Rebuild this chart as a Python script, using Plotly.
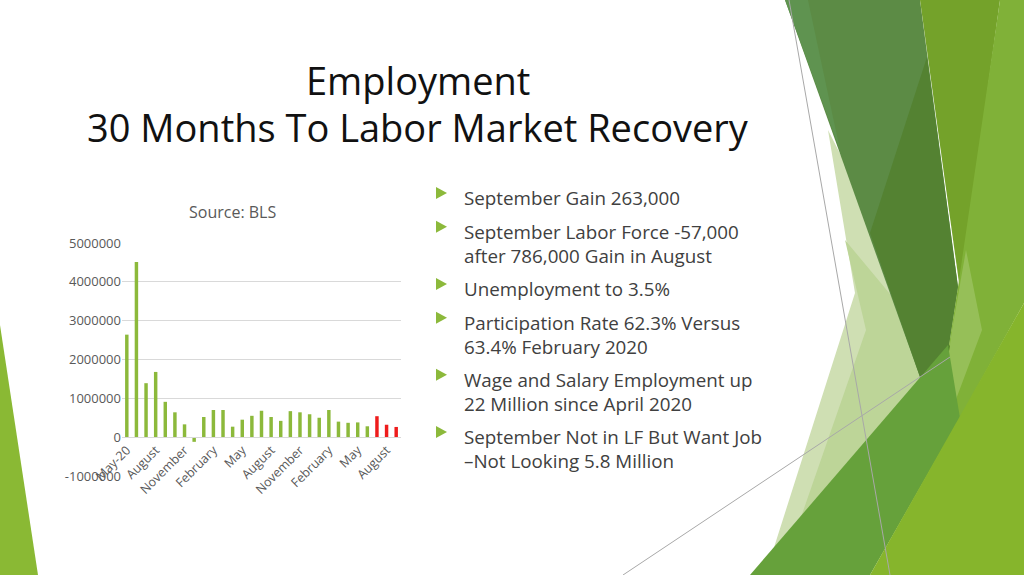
import plotly.graph_objects as go

## chart data
months = ["May-20", "Jun-20", "Jul-20", "Aug-20", "Sep-20", "Oct-20", "Nov-20", "Dec-20",
          "Jan-21", "Feb-21", "Mar-21", "Apr-21", "May-21", "Jun-21", "Jul-21", "Aug-21",
          "Sep-21", "Oct-21", "Nov-21", "Dec-21", "Jan-22", "Feb-22", "Mar-22", "Apr-22",
          "May-22", "Jun-22", "Jul-22", "Aug-22", "Sep-22"]
gains = [2640000, 4510000, 1390000, 1680000, 910000, 640000, 330000, -120000,
         520000, 700000, 700000, 270000, 450000, 550000, 680000, 520000,
         420000, 670000, 640000, 590000, 500000, 700000, 400000, 370000,
         380000, 280000, 540000, 320000, 263000]
recent = ["Jul-22", "Aug-22", "Sep-22"]

x_tick_months = ["May-20", "Aug-20", "Nov-20", "Feb-21", "May-21", "Aug-21",
                 "Nov-21", "Feb-22", "May-22", "Aug-22"]
x_tick_text = ["May-20", "August", "November", "February", "May", "August",
               "November", "February", "May", "August"]
y_tick_vals = [-1000000, 0, 1000000, 2000000, 3000000, 4000000, 5000000]
y_tick_text = ["-1000000", "0", "1000000", "2000000", "3000000", "4000000", "5000000"]

title_lines = ["Employment", "30 Months To Labor Market Recovery"]
bullets = [
    ["September Gain 263,000"],
    ["September Labor Force -57,000", "after 786,000 Gain in August"],
    ["Unemployment to 3.5%"],
    ["Participation Rate 62.3% Versus", "63.4% February 2020"],
    ["Wage and Salary Employment up", "22 Million since April 2020"],
    ["September Not in LF But Want Job", "\u2013Not Looking 5.8 Million"],
]

W, H = 1024, 575
FONT = "Open Sans"
GREEN = "#8CB93B"
RED = "#EE1C1C"


def px(x, y):
    return x / W, 1 - y / H


def path(points):
    pts = [px(x, y) for x, y in points]
    return "M " + " L ".join(f"{a:.5f},{b:.5f}" for a, b in pts) + " Z"


bar_colors = [RED if m in recent else GREEN for m in months]

fig = go.Figure()
fig.add_trace(go.Bar(x=months, y=gains, marker_color=bar_colors,
                     marker_line_width=0, showlegend=False, hoverinfo="skip"))

fig.update_layout(
    width=W, height=H,
    margin=dict(l=0, r=0, t=0, b=0, pad=0),
    paper_bgcolor="white", plot_bgcolor="white",
    bargap=0.64,
    font=dict(family=FONT, color="#595959"),
    xaxis=dict(domain=[122 / W, 401 / W], anchor="free", position=1 - 437 / H,
               tickmode="array", tickvals=x_tick_months, ticktext=x_tick_text,
               tickangle=-45, tickfont=dict(size=12.5, color="#595959"),
               showgrid=False, showline=True, linecolor="#D9D9D9", ticks="",
               automargin=False, fixedrange=True),
    yaxis=dict(domain=[1 - 476 / H, 1 - 243 / H], range=[-1000000, 5000000],
               tickmode="array", tickvals=y_tick_vals, ticktext=y_tick_text,
               tickfont=dict(size=13, color="#595959"),
               gridcolor="#D9D9D9", gridwidth=1, zeroline=False, showline=False,
               ticks="", automargin=False, fixedrange=True),
)

## decorative facets (Facet theme)
facets = [
    ([(0, 325), (38, 575), (0, 575)], "#8AB934"),
    ([(828, 130), (945, 360), (770, 560), (855, 293)], "#CFDFB3"),
    ([(845, 240), (945, 360), (800, 520), (866, 330)], "#BDD598"),
    ([(785, 0), (920, 0), (958, 287), (937, 423), (920, 377)], "#5C8B45"),
    ([(785, 0), (808, 0), (840, 150)], "#5F9350"),
    ([(927, 57), (958, 287), (937, 423), (920, 377), (870, 233)], "#548232"),
    ([(920, 0), (1000, 0), (960, 290)], "#74A22A"),
    ([(1000, 0), (1024, 0), (1024, 303), (960, 418), (937, 423), (958, 287)], "#80B138"),
    ([(966, 250), (982, 330), (934, 458), (952, 330)], "#96BF58"),
    ([(920, 377), (950, 345), (937, 423)], "#4C7F27"),
    ([(948, 345), (750, 575), (870, 575), (960, 418)], "#66A13B"),
    ([(1024, 303), (1024, 575), (870, 575)], "#86B52C"),
]
for pts, col in facets:
    fig.add_shape(type="path", path=path(pts), xref="paper", yref="paper",
                  fillcolor=col, line_width=0, layer="above")

for (x0, y0), (x1, y1) in [((789, 0), (890, 575)), ((623, 575), (950, 357))]:
    a, b = px(x0, y0)
    c, d = px(x1, y1)
    fig.add_shape(type="line", x0=a, y0=b, x1=c, y1=d, xref="paper", yref="paper",
                  line=dict(color="#A8A8A8", width=1))

## slide title
for i, line in enumerate(title_lines):
    x, y = px(418, 80 + i * 47)
    fig.add_annotation(text=line, x=x, y=y, xref="paper", yref="paper",
                       showarrow=False, xanchor="center", yanchor="middle",
                       font=dict(family=FONT, size=38, color="#111111"))

## chart title
x, y = px(232, 212)
fig.add_annotation(text="Source: BLS", x=x, y=y, xref="paper", yref="paper",
                   showarrow=False, xanchor="center", yanchor="middle",
                   font=dict(family=FONT, size=16, color="#595959"))

## bullets
yy = 197
for item in bullets:
    bx, by = 436, yy - 4
    fig.add_shape(type="path", path=path([(bx, by - 6), (bx + 11, by), (bx, by + 6)]),
                  xref="paper", yref="paper", fillcolor=GREEN, line_width=0)
    x, y = px(463, yy - 13)
    fig.add_annotation(text="<br>".join(item), x=x, y=y, xref="paper", yref="paper",
                       showarrow=False, xanchor="left", yanchor="top", align="left",
                       borderpad=0,
                       font=dict(family=FONT, size=18.8, color="#404040"))
    yy += 23.3 * (len(item) - 1) + 33.8

fig.write_html("out.html",
               config={"displayModeBar": False},
               post_script="document.body.style.margin='0';"
                           "document.body.style.overflow='hidden';")
